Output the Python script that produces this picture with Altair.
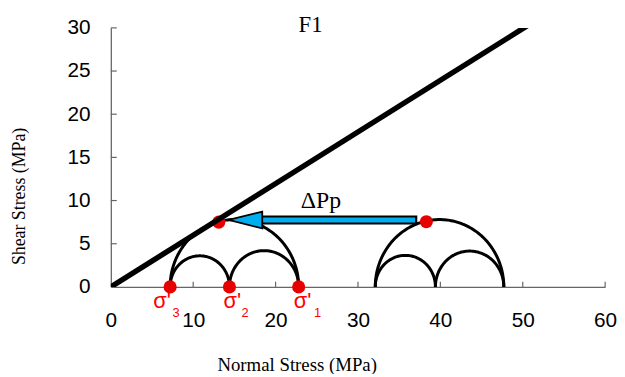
import altair as alt
import pandas as pd
import numpy as np

# ---- data ----
sigma_before = [7.2, 14.4, 22.8]      # sigma'3, sigma'2, sigma'1 (left Mohr circles)
sigma_after = [32.1, 39.4, 47.7]      # right Mohr circles
touch_x = [13.1, 38.3]                # red points on the large circles
touch_y = [7.5, 7.55]
fail_x = [0, 60]                      # failure envelope
fail_y = [0, 35.9]
x_ticks = [0, 10, 20, 30, 40, 50, 60]
y_ticks = [0, 5, 10, 15, 20, 25, 30]
sigma_main = ["σ'", "σ'", "σ'"]
sigma_sub = ["3", "2", "1"]
arrow_from = 37.2
arrow_to = 14.3
arrow_y = 7.75

W, H = 500, 262
px_x = W / 60.0

xs = alt.Scale(domain=[0, 60], nice=False, zero=False)
ys = alt.Scale(domain=[0, 30], nice=False, zero=False)

rows = []
cid = 0
for s in (sigma_before, sigma_after):
    s3, s2, s1 = s
    for a, b in ((s3, s1), (s3, s2), (s2, s1)):
        c = (a + b) / 2.0
        r = (b - a) / 2.0
        for i, t in enumerate(np.linspace(0, np.pi, 121)):
            rows.append({"cid": cid, "i": i, "x": c + r * np.cos(t), "y": r * np.sin(t)})
        cid += 1
circ = pd.DataFrame(rows)

x_axis = alt.Axis(values=x_ticks, labelFont="Liberation Sans", labelFontSize=21, labelColor="black",
                  labelPadding=23, labelFlush=False, ticks=False, tickSize=0, grid=False, orient="bottom",
                  domainColor="#666666", domainWidth=1.3,
                  title="Normal Stress (MPa)", titleFont="Liberation Serif", titleFontSize=19,
                  titleFontWeight="normal", titleColor="black", titleX=188, titleY=85,
                  titleAlign="center", titleBaseline="alphabetic")
y_axis = alt.Axis(values=y_ticks, labelFont="Liberation Sans", labelFontSize=21, labelColor="black",
                  labelPadding=21, labelFlush=False, ticks=False, tickSize=0, grid=False, orient="left",
                  domainColor="#666666", domainWidth=1.3,
                  title="Shear Stress (MPa)", titleFont="Liberation Serif", titleFontSize=18,
                  titleFontWeight="normal", titleColor="black", titleX=-87, titleY=170,
                  titleAngle=270, titleAlign="center", titleBaseline="alphabetic")


def X(f):
    return alt.X(f, scale=xs, axis=x_axis)


def Y(f):
    return alt.Y(f, scale=ys, axis=y_axis)


circles = alt.Chart(circ).mark_line(color="black", strokeWidth=3, clip=True).encode(
    x=X("x:Q"), y=Y("y:Q"), detail="cid:N", order="i:Q")

xt = pd.DataFrame({"v": x_ticks[1:], "lo": [0.0] * 6, "hi": [0.6] * 6})
xtick = alt.Chart(xt).mark_rule(color="#666666", strokeWidth=1.2).encode(
    x=X("v:Q"), y=Y("lo:Q"), y2="hi:Q")
yt = pd.DataFrame({"v": y_ticks[1:], "lo": [0.0] * 6, "hi": [0.72] * 6})
ytick = alt.Chart(yt).mark_rule(color="#666666", strokeWidth=1.2).encode(
    y=Y("v:Q"), x=X("lo:Q"), x2="hi:Q")

pts = pd.DataFrame({"x": sigma_before + touch_x, "y": [0, 0, 0] + touch_y})
dots = alt.Chart(pts).mark_circle(size=175, color="#e60000", opacity=1).encode(
    x=X("x:Q"), y=Y("y:Q"))

fail = alt.Chart(pd.DataFrame({"x": fail_x, "y": fail_y})).mark_line(
    color="black", strokeWidth=5.5, clip=True, strokeCap="butt").encode(
    x=X("x:Q"), y=Y("y:Q"))

head_len = 34 / px_x
head_c = arrow_to + head_len / 2
shaft = pd.DataFrame({"x": [head_c], "x2": [arrow_from], "x3": [arrow_from - 2.2 / px_x], "y": [arrow_y]})
shaft_black = alt.Chart(shaft).mark_rule(color="black", strokeWidth=9, strokeCap="butt").encode(
    x=X("x:Q"), x2="x2:Q", y=Y("y:Q"))
shaft_cyan = alt.Chart(shaft).mark_rule(color="#00aeef", strokeWidth=5, strokeCap="butt").encode(
    x=X("x:Q"), x2="x3:Q", y=Y("y:Q"))
head = alt.Chart(pd.DataFrame({"x": [head_c], "y": [arrow_y]})).mark_point(
    shape="M-1,0L1,-0.5L1,0.5Z", size=34 * 34, filled=True, fill="#00aeef",
    stroke="black", strokeWidth=1.8, opacity=1).encode(
    x=X("x:Q"), y=Y("y:Q"))

lab = pd.DataFrame({"x": sigma_before, "main": sigma_main, "sub": sigma_sub,
                    "mx": [-2.04, -0.71, -0.6], "sx": [0.3, 1.45, 1.85], "y": [0.0] * 3})
lab["xm"] = lab["x"] + lab["mx"]
lab["xs"] = lab["x"] + lab["sx"]
lab_main = alt.Chart(lab).mark_text(font="Liberation Sans", fontSize=22, color="#ff0000",
                                    align="left", baseline="alphabetic", dy=21, clip=False).encode(
    x=X("xm:Q"), y=Y("y:Q"), text="main:N")
lab_sub = alt.Chart(lab).mark_text(font="Liberation Sans", fontSize=13, color="#ff0000",
                                   align="left", baseline="alphabetic", dy=30, clip=False).encode(
    x=X("xs:Q"), y=Y("y:Q"), text="sub:N")

ann = pd.DataFrame({"x": [24.25, 25.5], "y": [30, 9.1], "t": ["F1", "ΔPp"]})
f1 = alt.Chart(ann.iloc[[0]]).mark_text(font="Liberation Serif", fontSize=23, color="black",
                                        align="center", baseline="alphabetic", dy=4).encode(
    x=X("x:Q"), y=Y("y:Q"), text="t:N")
dp = alt.Chart(ann.iloc[[1]]).mark_text(font="Liberation Serif", fontSize=24, color="black",
                                        align="center", baseline="alphabetic").encode(
    x=X("x:Q"), y=Y("y:Q"), text="t:N")

chart = alt.layer(circles, xtick, ytick, dots, fail, shaft_black, shaft_cyan, head,
                  lab_main, lab_sub, f1, dp).properties(
    width=W, height=H, background="white",
    autosize=alt.AutoSizeParams(type="none"),
    padding={"left": 104, "top": 18, "right": 12, "bottom": 86},
).configure_view(stroke=None)

chart.save("out.html", embed_options={"renderer": "svg", "actions": False})
